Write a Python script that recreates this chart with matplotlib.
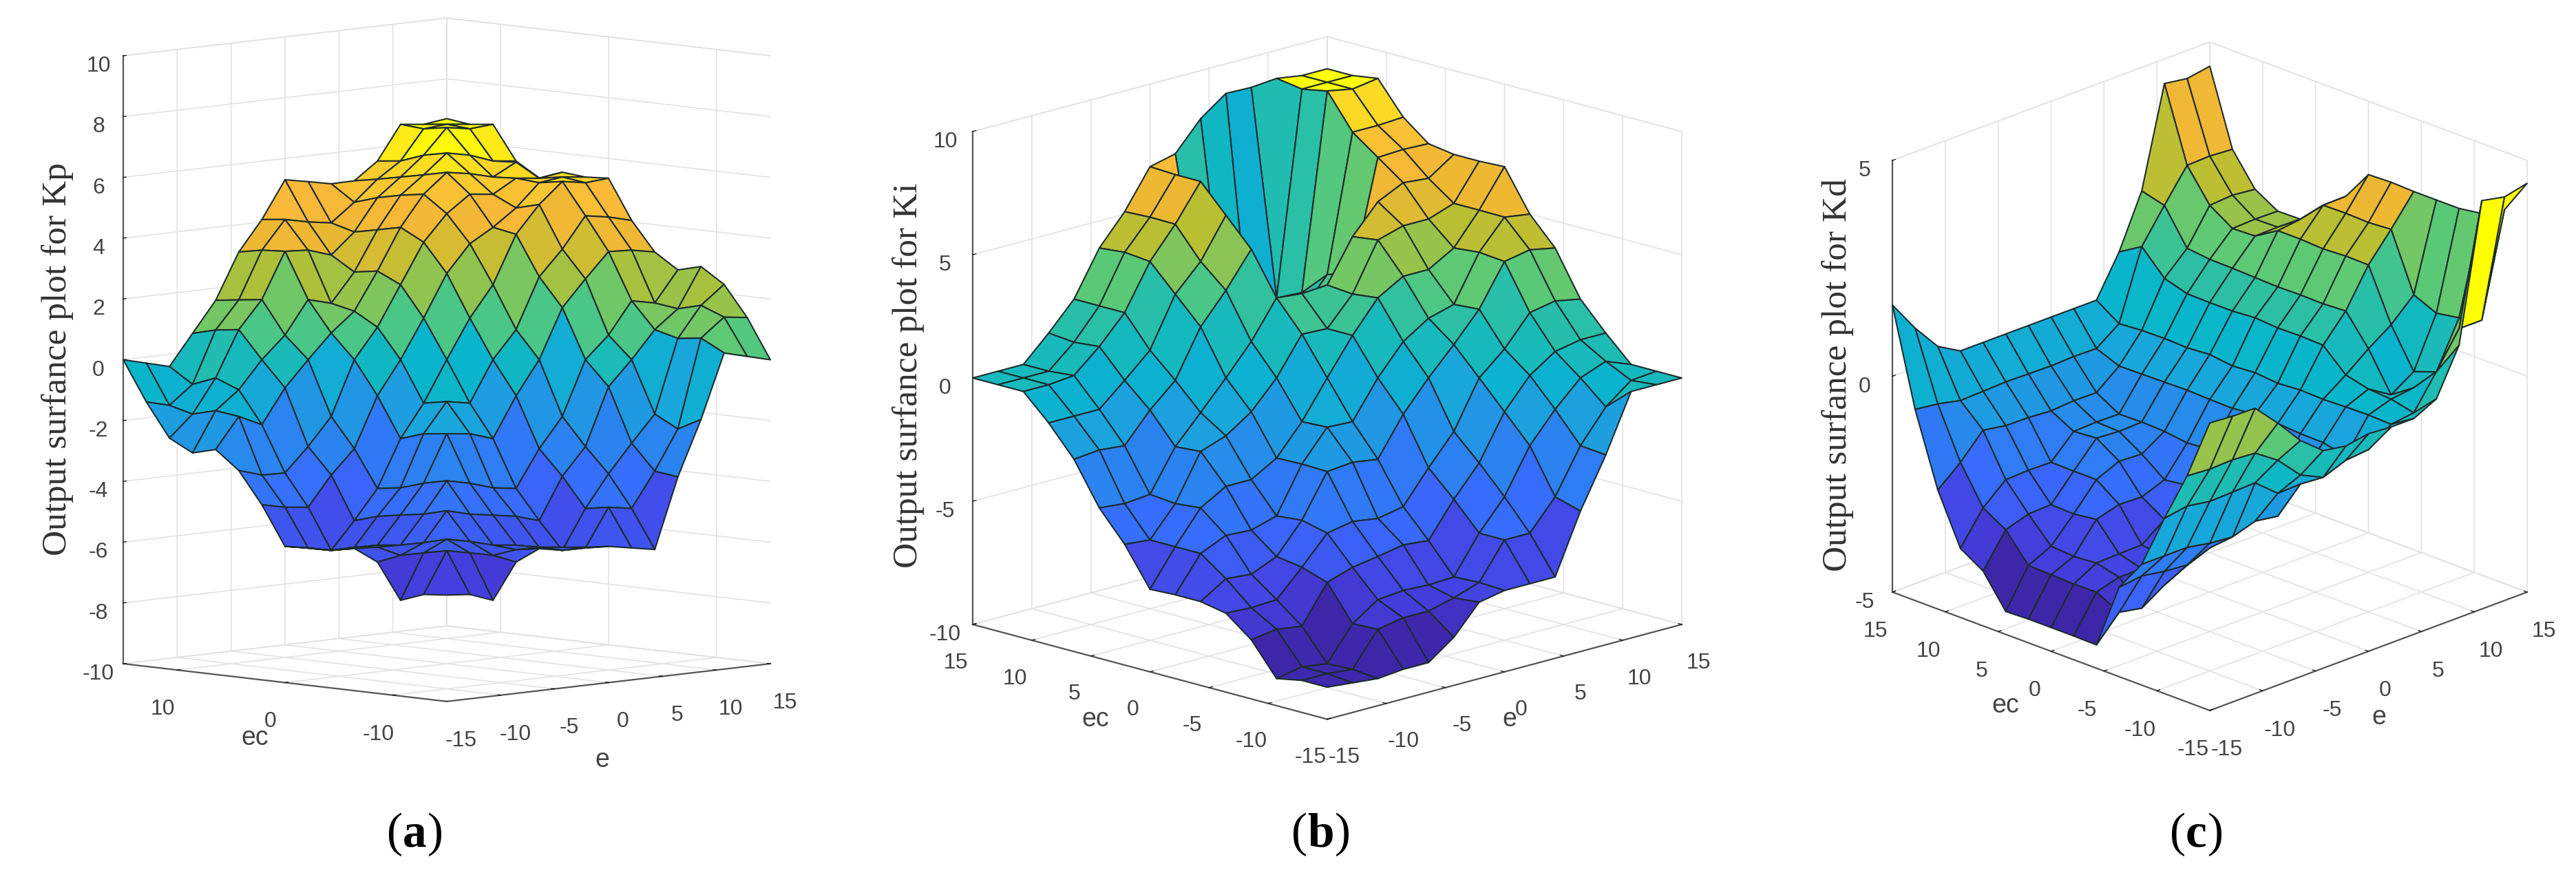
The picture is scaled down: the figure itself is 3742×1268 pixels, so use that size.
import numpy as np
import matplotlib
matplotlib.use("Agg")
import matplotlib.pyplot as plt
from matplotlib.colors import LinearSegmentedColormap

W, H = 3742, 1268
axis_values = [-15 + 30 * n / 14 for n in range(15)]

# rows: e from -15 to 15, columns: ec from -15 to 15
kp = [
 [-6.5,-6.57,-6.85,-5.68,-5.32,-5.47,-5.49,-5.52,-4.24,-3.2,-2.6,-2.8,-2.4,-1.3,0],
 [-6.57,-5.22,-5.38,-5.55,-5.37,-5.5,-5.65,-5.66,-4.41,-3.44,-1.6,-1.5,-1.7,-1.5,-0.2],
 [-6.85,-5.38,-5.02,-5.22,-5.39,-5.48,-5.64,-5.83,-4.5,-3.46,-1.96,-0.9,-0.6,-0.9,-0.4],
 [-5.68,-5.55,-5.18,-4.26,-4.46,-4.58,-4.71,-4.94,-3.53,-2.68,-0.84,0,0.9,0.8,0.6],
 [-5.33,-5.45,-5.39,-4.46,-3.45,-3.62,-3.86,-3.97,-2.75,-1.78,0,0.72,1.8,1.7,1.6],
 [-5.47,-5.46,-5.48,-4.58,-3.62,-2.08,-2.17,-2.42,-1.1,0,0.79,1.8,3.3,3.25,3.1],
 [-5.46,-5.55,-5.64,-4.71,-3.86,-2.17,-1.2,-1.34,0,0.98,1.42,1.59,3.25,4.17,4.08],
 [-5.52,-5.66,-5.83,-4.94,-3.97,-2.42,-1.34,0,1.28,2.29,2.65,2.53,3.0,4.0,5.3],
 [-5.66,-4.41,-4.54,-3.57,-2.75,-1.1,0,1.28,2.66,3.6,4.0,3.83,3.67,3.88,5.15],
 [-5.8,-4.54,-3.49,-2.68,-1.78,0,0.9,2.29,3.55,4.45,5.0,4.88,4.71,4.47,4.99],
 [-3.5,-3.4,-2.57,-0.8,0,1.62,2.55,3.86,4.0,5.0,5.63,5.46,5.3,5.14,5.0],
 [-1.7,-2.1,-1.7,0,0.72,2.48,3.37,4.75,4.55,4.91,5.5,6.09,5.93,5.65,5.56],
 [0.4,0.8,0.7,0.9,1.76,3.29,4.38,5.42,5.29,5.35,5.3,5.93,6.75,6.62,6.68],
 [0.2,1.4,1.7,1.5,1.6,3.25,4.25,5.29,5.39,5.26,5.7,5.65,6.62,6.68,6.59],
 [0,1.3,2.3,2.8,2.6,3.1,4.05,5.35,5.3,5.37,5.09,5.56,6.68,6.59,6.69],
]
ki = [
 [-8.7,-8.7,-8.9,-7.6,-6.8,-6.6,-6.6,-6.65,-5.1,-3.9,-2.2,-1.0,0,0,0],
 [-8.8,-8.7,-8.7,-7.45,-6.85,-5.95,-5.2,-5.2,-5.2,-4.0,-2.1,-1.0,0,0,0],
 [-8.9,-8.8,-8.85,-7.6,-6.8,-6.04,-4.74,-3.9,-4.0,-3.9,-2.2,-1.0,0.1,0,0],
 [-8.8,-7.45,-7.5,-6.1,-5.76,-5.6,-4.8,-3.3,-2.16,-2.24,-1.03,-0.1,1.0,0.9,1.0],
 [-8.8,-7.26,-6.8,-5.76,-4.65,-4.4,-4.5,-3.3,-1.8,-1.13,-0.1,0.85,2.1,2.1,2.1],
 [-8.05,-7.26,-6.7,-5.6,-4.45,-2.7,-2.67,-2.7,-1.1,0,1.8,2.85,3.9,4.0,3.9],
 [-6.9,-7.0,-6.75,-5.4,-4.6,-2.6,-1.45,-1.5,0,1.2,3.0,3.9,5.14,5.15,5.1],
 [-6.7,-6.65,-6.7,-5.5,-4.4,-2.75,-1.5,0,1.5,2.7,4.4,5.5,6.6,6.6,6.65],
 [-6.7,-5.2,-5.2,-4.1,-3.1,-1.2,0,1.45,1.45,2.6,1.5,1.0,0.8,0.9,6.9],
 [-6.7,-5.2,-4.0,-2.9,-1.9,0,1.2,2.7,2.58,2.67,1.8,0.8,0.2,-0.3,8.05],
 [-4.3,-4.0,-2.2,-1.1,0,1.08,1.87,3.3,4.5,4.36,1.8,0.8,0.3,-1.2,8.8],
 [-2.3,-2.2,-1.0,0.1,0.9,2.24,2.16,3.3,4.8,5.5,2.3,2.0,1.0,0.5,8.77],
 [0,-0.9,0,0.8,2.1,3.9,4.0,3.9,4.8,6.0,6.75,7.5,8.9,8.7,8.86],
 [0,-0.1,0.4,1.0,2.3,4.1,5.15,5.16,5.16,5.9,6.8,7.5,8.7,8.7,8.7],
 [0,0,0,1.0,2.1,3.9,5.0,6.65,6.6,6.6,6.76,7.56,8.86,8.7,8.7],
]
kd = [
 [1.66,0.24,-0.94,-2.2,-2.93,-4.46,-4.45,-4.45,-4.45,-4.47,-3.73,-3.4,-2.24,-0.57,1.65],
 [1.62,0.2,-0.85,-2.2,-2.86,-3.9,-3.63,-3.64,-3.62,-3.6,-2.97,-2.66,-1.8,-0.64,0.92],
 [1.61,0.22,-0.94,-2.2,-2.95,-4.0,-3.48,-3.35,-3.39,-3.35,-2.8,-2.2,-1.25,-0.76,0.3],
 [1.07,0.18,-0.92,-2.3,-3.0,-3.66,-3.48,-3.33,-2.73,-2.8,-2.78,-2.18,-1.34,-0.74,0],
 [0.47,-0.18,-0.9,-2.35,-2.8,-3.4,-3.4,-3.32,-2.58,-2.2,-2.2,-2.19,-1.35,-0.72,0],
 [0.04,-0.72,-1.34,-2.18,-2.7,-2.9,-3.0,-2.93,-2.6,-1.97,-1.63,-1.67,-1.39,-0.73,0],
 [-0.05,-0.97,-1.32,-2.26,-2.56,-2.5,-2.5,-2.33,-2.4,-2.0,-1.67,-1.65,-1.35,-0.74,0],
 [0.04,-0.77,-1.14,-1.55,-1.96,-1.9,-1.7,-1.7,-1.74,-1.67,-1.65,-1.66,-1.36,-0.72,0],
 [0,-0.72,-1.07,-0.95,-0.94,-0.9,-0.88,-0.94,-0.93,-0.91,-0.92,-0.93,-0.94,-0.73,0],
 [0,-0.33,-0.31,-0.32,-0.34,-0.32,-0.36,-0.31,-0.35,-0.28,-0.32,-0.3,-0.31,-0.35,0],
 [0.26,-0.26,-0.14,-0.1,0.03,0.52,0.54,0.53,0.57,0.53,0.53,0.54,0.7,1.24,0.92],
 [1.31,0.5,-0.07,-0.43,0.44,1.12,1.09,1.1,1.09,1.11,1.13,1.14,1.2,2.0,2.14],
 [4.46,1.3,0.1,-0.09,0.8,1.99,2.0,1.97,2.0,2.0,1.68,1.66,2.0,2.73,4.43],
 [4.35,1.3,1.16,1.07,1.3,2.62,2.58,2.6,2.59,2.07,1.69,1.68,2.04,2.75,4.35],
 [4.47,3.66,3.38,3.3,3.3,3.3,3.32,3.3,2.6,2.2,1.68,1.67,1.98,2.71,4.44],
]

titles = ["Output surfance plot for Kp", "Output surfance plot for Ki", "Output surfance plot for Kd"]
captions = ["a", "b", "c"]
e_ticks = [-15, -10, -5, 0, 5, 10, 15]
ec_ticks_a = [-10, 0, 10]
ec_ticks = [-15, -10, -5, 0, 5, 10, 15]
z_ticks_a = [-10, -8, -6, -4, -2, 0, 2, 4, 6, 8, 10]
z_ticks_b = [-10, -5, 0, 5, 10]
z_ticks_c = [-5, 0, 5]

parula = LinearSegmentedColormap.from_list("parula", [
    (0.00, (0.2422, 0.1504, 0.6603)), (0.10, (0.27, 0.25, 0.88)),
    (0.20, (0.22, 0.42, 1.00)), (0.31, (0.15, 0.55, 0.92)),
    (0.39, (0.10, 0.65, 0.86)), (0.46, (0.03, 0.71, 0.80)),
    (0.56, (0.17, 0.75, 0.65)), (0.62, (0.35, 0.79, 0.47)),
    (0.72, (0.72, 0.75, 0.20)), (0.79, (0.93, 0.72, 0.20)),
    (0.86, (0.98, 0.72, 0.22)), (0.91, (0.98, 0.80, 0.18)),
    (0.95, (1.00, 0.97, 0.05)), (1.00, (1.00, 1.00, 0.00))])

# colour scale of each panel: surface height -> position along the colour map
scale_a = ([-7.5, -5.5, -3.5, -2.0, -1.2, 0.0, 2.66, 4.45, 5.6, 6.1, 6.9],
           [0.05, 0.15, 0.28, 0.40, 0.47, 0.60, 0.76, 0.88, 0.93, 0.97, 1.0])
scale_b = ([-8.9, 8.9], [0.0, 1.0])
scale_c = ([-4.47, 4.47], [0.0, 1.0])

plt.rcParams["font.family"] = ["Liberation Sans"]
plt.rcParams["axes.unicode_minus"] = False
fig = plt.figure(figsize=(W / 100, H / 100), dpi=100, facecolor="white")

def panel(Z, z_ticks, zlim, scale, ec_t, centre_x, half_w, top, bottom, elev, pad):
    Z = np.array(Z)
    height = bottom - top
    r = (height / np.cos(np.radians(elev))) / (half_w / np.cos(np.radians(45)))
    aspect = np.array([1.0, 1.0, r])
    L = 1.8294640721620434 * 25 / 24 / np.linalg.norm(aspect)
    S = half_w / (np.cos(np.radians(45)) * L)
    side = S * 0.185 / 0.1
    cy = (top + bottom) / 2
    left = centre_x - side * 0.095 / 0.185
    low = H - cy - side * 0.095 / 0.185
    ax = fig.add_axes([left / W, low / H, side / W, side / H], projection="3d", proj_type="ortho")
    ax.set_box_aspect(aspect)
    ax.view_init(elev=elev, azim=-135)
    ax.patch.set_visible(False)
    X, Y = np.meshgrid(axis_values, axis_values, indexing="ij")
    ax.plot_surface(X, Y, Z, rstride=1, cstride=1, facecolors=parula(np.interp(Z, *scale)), shade=False,
                    edgecolor="#1c2b2b", linewidth=1.5, antialiased=True)
    ax.set_xlim(-15, 15); ax.set_ylim(-15, 15); ax.set_zlim(*zlim)
    ax.set_xticks(e_ticks); ax.set_yticks(ec_t); ax.set_zticks(z_ticks)
    for axis in (ax.xaxis, ax.yaxis, ax.zaxis):
        axis.set_pane_color((1, 1, 1, 1))
        axis.pane.set_edgecolor("#dcdcdc")
        axis.line.set_color("#555555")
        axis.line.set_linewidth(1.6)
        axis._axinfo["grid"]["color"] = "#e2e2e2"
        axis._axinfo["grid"]["linewidth"] = 1.2
        axis._axinfo["tick"]["inward_factor"] = 0.0
        axis._axinfo["tick"]["outward_factor"] = 0.12
        axis._axinfo["tick"]["color"] = "#555555"
    ax.tick_params(axis="x", labelsize=23, labelcolor="#444444", pad=pad)
    ax.tick_params(axis="y", labelsize=23, labelcolor="#444444", pad=pad)
    ax.tick_params(axis="z", labelsize=23, labelcolor="#444444", pad=10)
    ax.zaxis.set_ticks_position("upper")
    return ax

panel(kp, z_ticks_a, (-10, 10), scale_a, ec_ticks_a, 649, 470, 81, 964, 6.7, 13)
panel(ki, z_ticks_b, (-10, 10), scale_b, ec_ticks, 1928, 515, 191, 907, 15.5, 14)
panel(kd, z_ticks_c, (-5, 5), scale_c, ec_ticks, 3210, 461, 233, 860, 21.9, 14)

serif = "Liberation Serif"
for x, y, t in zip([84, 1320, 2670], [522, 545, 545], titles):
    fig.text(x / W, 1 - y / H, t, rotation=90, ha="center", va="center", family=serif, fontsize=37, color="#333333")
for x, y, t in [(370, 1072, "ec"), (875, 1104, "e"), (1591, 1045, "ec"), (2193, 1045, "e"), (2913, 1025, "ec"), (3456, 1042, "e")]:
    fig.text(x / W, 1 - y / H, t, ha="center", va="center", fontsize=27, color="#444444")
for x, c, w in zip([603, 1919, 3191], captions, [36, 40, 32]):
    fig.text((x - w / 2) / W, 1 - 1212 / H, "(", ha="right", va="center", family=serif, fontsize=50)
    fig.text((x - w / 2) / W, 1 - 1212 / H, c, ha="left", va="center", family=serif, fontsize=50, fontweight="bold")
    fig.text((x + w / 2) / W, 1 - 1212 / H, ")", ha="left", va="center", family=serif, fontsize=50)

fig.savefig("out.png", dpi=100)
